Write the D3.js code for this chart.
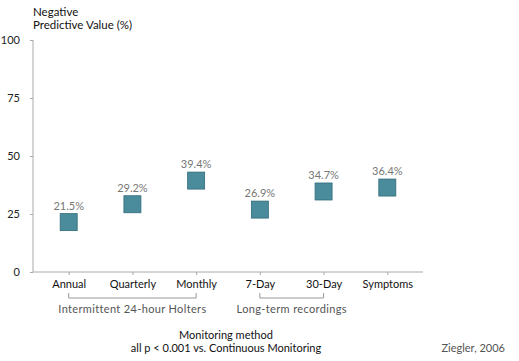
<!DOCTYPE html>
<html><head><meta charset="utf-8">
<script src="https://cdn.jsdelivr.net/npm/d3@7"></script>
<style>body{margin:0;background:#fff}svg{display:block}text{font-family:Lato,"Open Sans",sans-serif}</style>
</head><body>
<script>
const categories = ["Annual","Quarterly","Monthly","7-Day","30-Day","Symptoms"];
const values = [21.5, 29.2, 39.4, 26.9, 34.7, 36.4];
const valueLabels = ["21.5%","29.2%","39.4%","26.9%","34.7%","36.4%"];
const yTicks = [0,25,50,75,100];
const groups = [
  {label:"Intermittent 24-hour Holters", from:"Annual", to:"Monthly"},
  {label:"Long-term recordings", from:"7-Day", to:"30-Day"}
];

const W=519,H=361;
const svg=d3.select("body").append("svg").attr("width",W).attr("height",H);
const x=d3.scalePoint().domain(categories).range([33,423]).padding(0.56);
const y=d3.scaleLinear().domain([0,100]).range([272,40]);

// y axis
const ya=svg.append("g").attr("transform","translate(33,0)")
  .call(d3.axisLeft(y).tickValues(yTicks).tickSize(3).tickPadding(10));
ya.select(".domain").attr("stroke","#aaa").attr("d","M0,40V272");
ya.selectAll(".tick line").attr("stroke","#aaa");
ya.selectAll(".tick text").attr("font-size",11).attr("fill","#222");

// x axis
const xa=svg.append("g").attr("transform","translate(0,272)")
  .call(d3.axisBottom(x).tickSize(3).tickPadding(5));
xa.select(".domain").attr("stroke","#aaa").attr("d","M33,0H423");
xa.selectAll(".tick line").attr("stroke","#aaa");
xa.selectAll(".tick text").attr("font-size",11).attr("fill","#111");

// squares
const s=17;
svg.selectAll("rect.pt").data(values).enter().append("rect").attr("class","pt")
  .attr("x",(d,i)=>x(categories[i])-s/2).attr("y",d=>y(d)-s/2)
  .attr("width",s).attr("height",s)
  .attr("fill","#4b8c9c").attr("stroke","#2f6b7a").attr("stroke-width",0.8);
svg.selectAll("text.vl").data(values).enter().append("text").attr("class","vl")
  .attr("x",(d,i)=>x(categories[i])).attr("y",d=>y(d)-s/2-4)
  .attr("text-anchor","middle").attr("font-size",11).attr("fill","#777")
  .text((d,i)=>valueLabels[i]);

// group brackets
groups.forEach(g=>{
  const x0=x(g.from), x1=x(g.to);
  svg.append("path").attr("d",`M${x0},293V298H${x1}V293`).attr("fill","none").attr("stroke","#999").attr("stroke-width",1);
  svg.append("text").attr("x",(x0+x1)/2).attr("y",313).attr("text-anchor","middle")
    .attr("font-size",11).attr("letter-spacing",0.35).attr("fill","#555").text(g.label);
});

// titles
svg.append("text").attr("x",33).attr("y",16).attr("font-size",11.5).attr("fill","#111").text("Negative");
svg.append("text").attr("x",33).attr("y",29).attr("font-size",11.5).attr("fill","#111").text("Predictive Value (%)");
svg.append("text").attr("x",226).attr("y",339).attr("text-anchor","middle").attr("font-size",11).attr("fill","#111").text("Monitoring method");
svg.append("text").attr("x",226).attr("y",352).attr("text-anchor","middle").attr("font-size",11).attr("fill","#111").text("all p < 0.001 vs. Continuous Monitoring");
svg.append("text").attr("x",505).attr("y",352).attr("text-anchor","end").attr("font-size",11).attr("fill","#555").text("Ziegler, 2006");
</script>
</body></html>
